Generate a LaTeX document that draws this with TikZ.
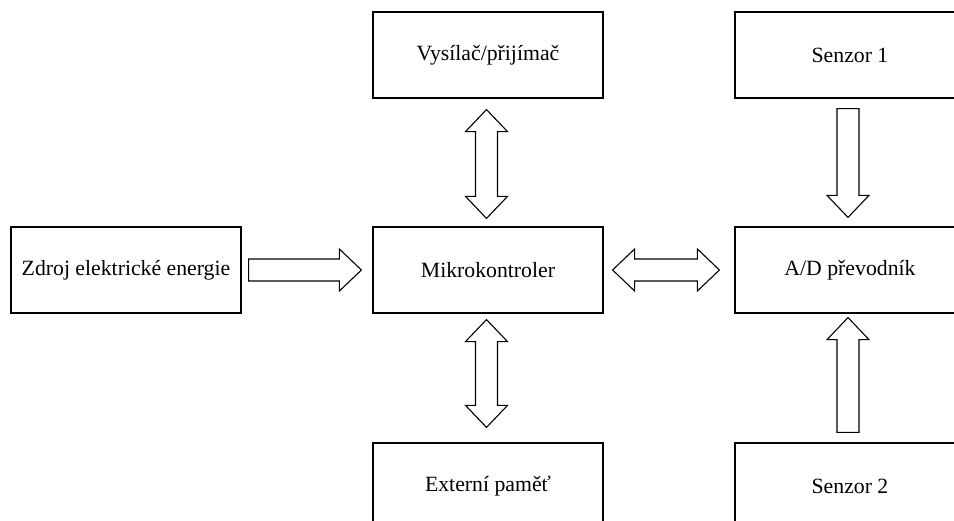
\documentclass[tikz,border=0pt]{standalone}
\usepackage{fontspec}
\setmainfont{Liberation Serif}
\newfontfamily\boxfont{Liberation Serif}
\usetikzlibrary{calc}
\tikzset{
  blockbox/.style={draw, line width=1.2pt, minimum width=230pt, minimum height=86pt,
    inner sep=0pt, font=\boxfont\fontsize{21.75}{26}\selectfont},
  blockarrow/.style={draw, line width=1.1pt, line join=miter, fill=white}
}
% hollow block arrow from tail #1 to tip #2
\newcommand\onewayarrow[2]{%
  \coordinate (aT) at (#1);
  \coordinate (aP) at (#2);
  \coordinate (aH) at ($(aP)!22pt!(aT)$);
  \draw[blockarrow] ($(aT)!11pt!90:(aP)$) -- ($(aH)!11pt!-90:(aT)$) -- ($(aH)!21pt!-90:(aT)$)
    -- (aP) -- ($(aH)!21pt!90:(aT)$) -- ($(aH)!11pt!90:(aT)$) -- ($(aT)!11pt!-90:(aP)$) -- cycle;
}
% hollow block arrow with heads at both ends #1 and #2
\newcommand\twowayarrow[2]{%
  \coordinate (aT) at (#1);
  \coordinate (aP) at (#2);
  \coordinate (aA) at ($(aT)!22pt!(aP)$);
  \coordinate (aB) at ($(aP)!22pt!(aT)$);
  \draw[blockarrow] (aT) -- ($(aA)!21pt!90:(aP)$) -- ($(aA)!11pt!90:(aP)$)
    -- ($(aB)!11pt!-90:(aT)$) -- ($(aB)!21pt!-90:(aT)$) -- (aP)
    -- ($(aB)!21pt!90:(aT)$) -- ($(aB)!11pt!90:(aT)$)
    -- ($(aA)!11pt!-90:(aP)$) -- ($(aA)!21pt!-90:(aP)$) -- cycle;
}
\begin{document}
\begin{tikzpicture}[x=1pt, y=-1pt]
  \useasboundingbox (0,0) rectangle (954,521);
  \clip (0,0) rectangle (954,521);

  \node[blockbox] (vys)   at (488,55)  {Vysílač/přijímač};
  \node[blockbox] (sen1)  at (850,55)  {Senzor 1};
  \node[blockbox] (zdroj) at (126,270) {Zdroj elektrické energie};
  \node[blockbox] (mikro) at (488,270) {Mikrokontroler};
  \node[blockbox] (ad)    at (850,270) {A/D převodník};
  \node[blockbox] (ext)   at (488,486) {Externí paměť};
  \node[blockbox] (sen2)  at (850,486) {Senzor 2};

  \twowayarrow{$(vys.south)+(-1.5,11)$}{$(mikro.north)+(-1.5,-8)$}
  \twowayarrow{$(mikro.south)+(-1.5,6)$}{$(ext.north)+(-1.5,-15)$}
  \twowayarrow{$(mikro.east)+(9,0)$}{$(ad.west)+(-15,0)$}
  \onewayarrow{$(zdroj.east)+(7,0)$}{$(mikro.west)+(-11,0)$}
  \onewayarrow{$(sen1.south)+(-2,10)$}{$(ad.north)+(-2,-9)$}
  \onewayarrow{$(sen2.north)+(-2,-10)$}{$(ad.south)+(-2,4)$}
\end{tikzpicture}
\end{document}
